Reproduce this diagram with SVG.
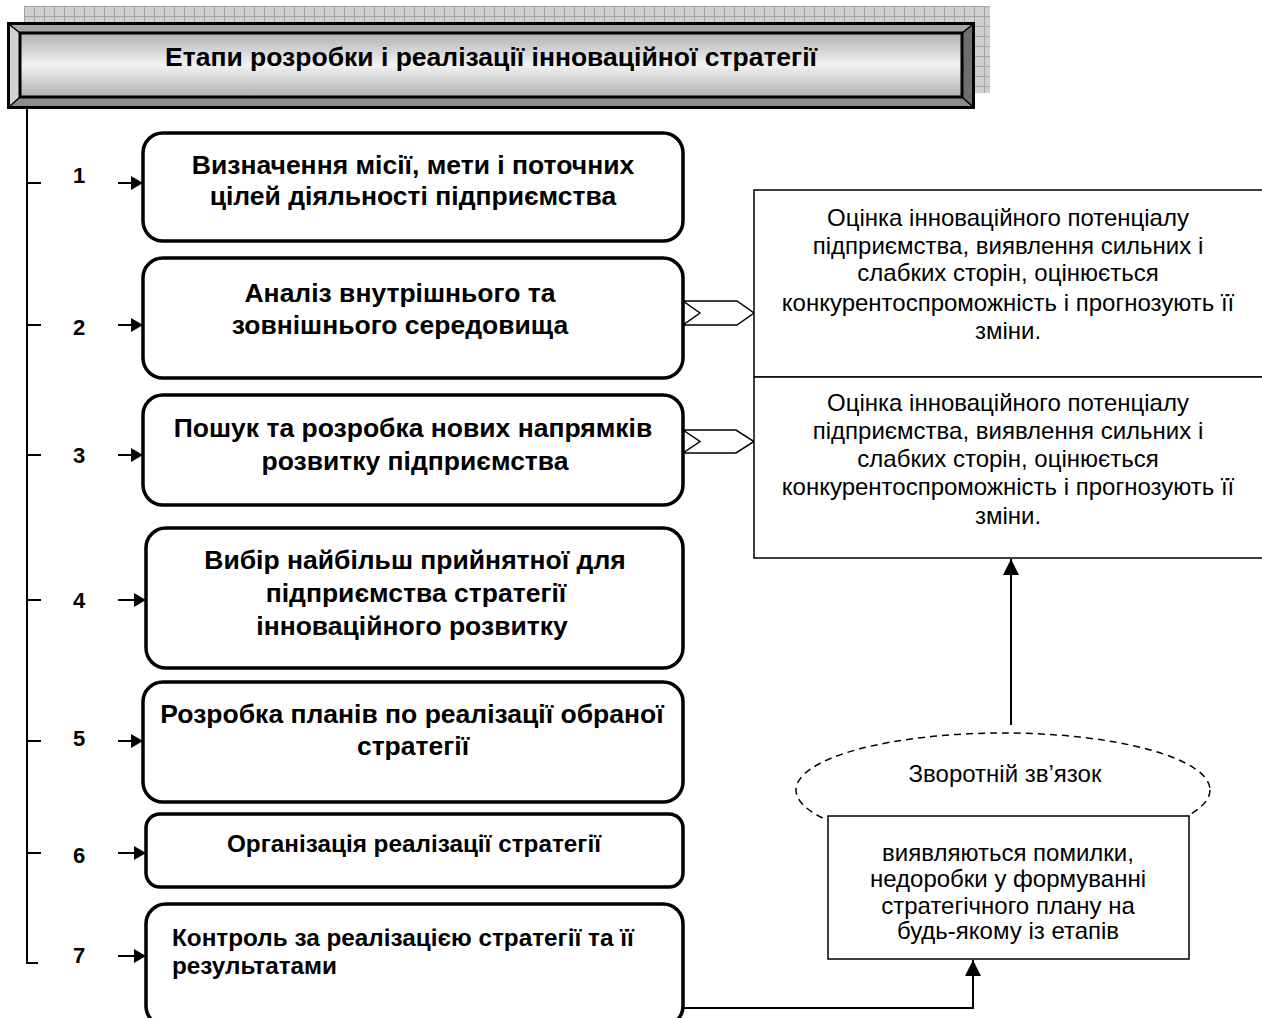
<svg xmlns="http://www.w3.org/2000/svg" width="1262" height="1018" viewBox="0 0 1262 1018">
<defs>
  <pattern id="grid" x="24" y="6" width="10" height="10" patternUnits="userSpaceOnUse">
    <rect width="10" height="10" fill="#d0d0d0"/>
    <path d="M0,0.5H10M0.5,0V10" stroke="#a4a4a4" stroke-width="1"/>
  </pattern>
  <linearGradient id="bar" x1="0" y1="0" x2="0" y2="1">
    <stop offset="0" stop-color="#b0b0b0"/>
    <stop offset="0.5" stop-color="#f2f2f2"/>
    <stop offset="1" stop-color="#b0b0b0"/>
  </linearGradient>
  <marker id="ah" viewBox="0 0 12 14" refX="12" refY="7" markerWidth="12" markerHeight="14" markerUnits="userSpaceOnUse" orient="auto">
    <path d="M0,0L12,7L0,14Z" fill="#000"/>
  </marker>
  <marker id="ah2" viewBox="0 0 16 16" refX="16" refY="8" markerWidth="16" markerHeight="16" markerUnits="userSpaceOnUse" orient="auto">
    <path d="M0,0L16,8L0,16Z" fill="#000"/>
  </marker>
</defs>
<style>
  .stage { fill: #fff; stroke: #000; stroke-width: 3.5; }
  .bt { font-family: "Liberation Sans", Arial, sans-serif; font-weight: bold; font-size: 26.5px; text-anchor: middle; fill: #000; }
  .bs { font-family: "Liberation Sans", Arial, sans-serif; font-weight: bold; font-size: 24.3px; fill: #000; }
  .num { font-family: "Liberation Sans", Arial, sans-serif; font-weight: bold; font-size: 22px; text-anchor: middle; fill: #000; }
  .rt { font-family: "Liberation Sans", Arial, sans-serif; font-size: 24px; text-anchor: middle; fill: #000; }
  .thin { fill: #fff; stroke: #000; stroke-width: 1.5; }
  .conn { fill: none; stroke: #000; stroke-width: 2; }
</style>

<g id="title">
  <rect x="24" y="6" width="966" height="87" fill="url(#grid)"/>
  <rect x="7" y="22" width="968" height="87" fill="#000"/>
  <polygon points="10,25 972,25 962,33 20,33" fill="#a6a6a6"/>
  <polygon points="10,25 20,33 20,97 10,106" fill="#d2d2d2"/>
  <polygon points="972,25 972,106 962,97 962,33" fill="#6e6e6e"/>
  <polygon points="10,106 20,97 962,97 972,106" fill="#8c8c8c"/>
  <path d="M10,25L20,33M972,25L962,33M10,106L20,97M972,106L962,97" stroke="#000" stroke-width="1.5"/>
  <rect x="20" y="33" width="942" height="64" fill="url(#bar)" stroke="#000" stroke-width="3"/>
  <text class="bt" x="491" y="66">Етапи розробки і реалізації інноваційної стратегії</text>
</g>

<g id="connectors">
  <path d="M27,109V963H38" class="conn" stroke-width="2.5"/>
  <path d="M27,183H41M27,325H41M27,455H41M27,600H41M27,741H41M27,853H41" class="conn"/>
  <line x1="118" y1="183" x2="143" y2="183" class="conn" marker-end="url(#ah)"/>
  <line x1="118" y1="325" x2="143" y2="325" class="conn" marker-end="url(#ah)"/>
  <line x1="118" y1="455" x2="143" y2="455" class="conn" marker-end="url(#ah)"/>
  <line x1="118" y1="600" x2="146" y2="600" class="conn" marker-end="url(#ah)"/>
  <line x1="118" y1="741" x2="143" y2="741" class="conn" marker-end="url(#ah)"/>
  <line x1="118" y1="853" x2="146" y2="853" class="conn" marker-end="url(#ah)"/>
  <line x1="118" y1="956" x2="146" y2="956" class="conn" marker-end="url(#ah)"/>
  <polygon points="683,301 737,301 754,313 737,325 683,325 700,313" class="thin"/>
  <polygon points="683,430 736,430 754,441.5 736,453 683,453 700,441.5" class="thin"/>
  <path d="M682,1008H973V960" fill="none" stroke="#000" stroke-width="2" marker-end="url(#ah2)"/>
  <line x1="1011" y1="725" x2="1011" y2="559" stroke="#000" stroke-width="2" marker-end="url(#ah2)"/>
</g>

<g id="numbers">
  <text class="num" x="79" y="183">1</text>
  <text class="num" x="79" y="335">2</text>
  <text class="num" x="79" y="463">3</text>
  <text class="num" x="79" y="608">4</text>
  <text class="num" x="79" y="746">5</text>
  <text class="num" x="79" y="863">6</text>
  <text class="num" x="79" y="963">7</text>
</g>

<g id="stage1">
  <rect class="stage" x="143" y="133" width="540" height="108" rx="20"/>
  <text class="bt" x="413" y="174">Визначення місії, мети і поточних</text>
  <text class="bt" x="413" y="205">цілей діяльності підприємства</text>
</g>
<g id="stage2">
  <rect class="stage" x="143" y="258" width="540" height="120" rx="20"/>
  <text class="bt" x="400" y="302">Аналіз внутрішнього та</text>
  <text class="bt" x="400" y="334">зовнішнього середовища</text>
</g>
<g id="stage3">
  <rect class="stage" x="143" y="395" width="540" height="110" rx="20"/>
  <text class="bt" x="413" y="437">Пошук та розробка нових напрямків</text>
  <text class="bt" x="415" y="470">розвитку підприємства</text>
</g>
<g id="stage4">
  <rect class="stage" x="146" y="528" width="537" height="140" rx="20"/>
  <text class="bt" x="415" y="569">Вибір найбільш прийнятної для</text>
  <text class="bt" x="416" y="602">підприємства стратегії</text>
  <text class="bt" x="412" y="635">інноваційного розвитку</text>
</g>
<g id="stage5">
  <rect class="stage" x="143" y="682" width="540" height="120" rx="20"/>
  <text class="bt" x="412" y="723">Розробка планів по реалізації обраної</text>
  <text class="bt" x="413" y="755">стратегії</text>
</g>
<g id="stage6">
  <rect class="stage" x="146" y="814" width="537" height="73" rx="14"/>
  <text class="bs" x="414" y="852" text-anchor="middle">Організація реалізації стратегії</text>
</g>
<g id="stage7">
  <rect class="stage" x="146" y="904" width="537" height="122" rx="20"/>
  <text class="bs" x="172" y="946">Контроль за реалізацією стратегії та її</text>
  <text class="bs" x="172" y="974">результатами</text>
</g>

<g id="assess1">
  <rect class="thin" x="754" y="190" width="520" height="187"/>
  <text class="rt" x="1008" y="226">Оцінка інноваційного потенціалу</text>
  <text class="rt" x="1008" y="254">підприємства, виявлення сильних і</text>
  <text class="rt" x="1008" y="281">слабких сторін, оцінюється</text>
  <text class="rt" x="1008" y="311">конкурентоспроможність і прогнозують її</text>
  <text class="rt" x="1008" y="339">зміни.</text>
</g>
<g id="assess2">
  <rect class="thin" x="754" y="377" width="520" height="181"/>
  <text class="rt" x="1008" y="411">Оцінка інноваційного потенціалу</text>
  <text class="rt" x="1008" y="439">підприємства, виявлення сильних і</text>
  <text class="rt" x="1008" y="467">слабких сторін, оцінюється</text>
  <text class="rt" x="1008" y="495">конкурентоспроможність і прогнозують її</text>
  <text class="rt" x="1008" y="524">зміни.</text>
</g>

<g id="feedback">
  <ellipse cx="1003" cy="790" rx="207" ry="57" fill="#fff" stroke="#000" stroke-width="1.5" stroke-dasharray="7,5"/>
  <text class="rt" x="1005" y="782">Зворотній зв’язок</text>
  <rect class="thin" x="828" y="816" width="361" height="143"/>
  <text class="rt" x="1008" y="861">виявляються помилки,</text>
  <text class="rt" x="1008" y="887">недоробки у формуванні</text>
  <text class="rt" x="1008" y="914">стратегічного плану на</text>
  <text class="rt" x="1008" y="939">будь-якому із етапів</text>
</g>
</svg>
